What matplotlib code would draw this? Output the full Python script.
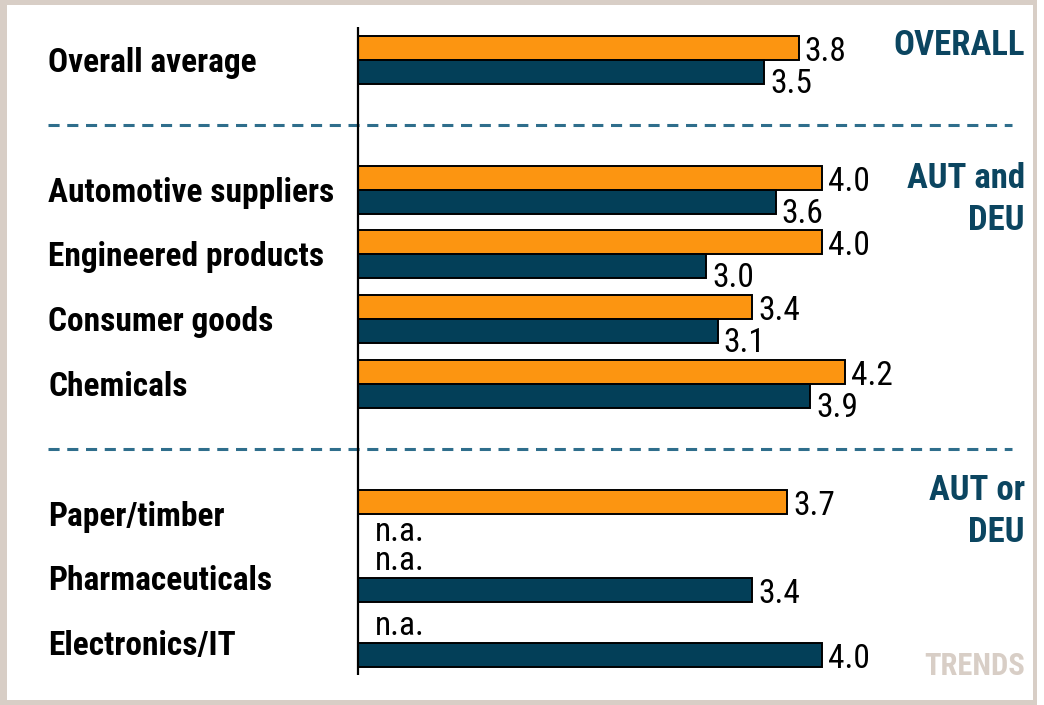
import matplotlib
matplotlib.use("Agg")
import matplotlib.pyplot as plt
from matplotlib.patches import Rectangle
import numpy as np

plt.rcParams['font.family'] = ['Roboto Condensed', 'DejaVu Sans']
plt.rcParams['lines.scale_dashes'] = False

# Data
categories = ["Overall average", "Automotive suppliers", "Engineered products",
              "Consumer goods", "Chemicals", "Paper/timber", "Pharmaceuticals",
              "Electronics/IT"]
positions = [0, 2, 3, 4, 5, 7, 8, 9]
orange_vals = [3.8, 4.0, 4.0, 3.4, 4.2, 3.7, None, None]
teal_vals = [3.5, 3.6, 3.0, 3.1, 3.9, None, 3.4, 4.0]
separators = [1, 6]
group_labels = ["OVERALL", "AUT and\nDEU", "AUT or\nDEU"]
group_label_pos = [-0.08, 1.97, 6.79]
corner_label = "TRENDS"

ORANGE = "#FC9511"
TEAL = "#033F58"
TEXT_TEAL = "#0B4560"
DASH = "#2F6E8C"
BEIGE = "#D8CEC6"

W, H = 1044, 705
fig = plt.figure(figsize=(W / 100, H / 100), dpi=100)
fig.patch.set_facecolor("white")

# Frame around the panel
for (x0, y0, w, h) in [(0, 0, 7, H), (0, H - 5, 1037, 5), (1033, 0, 4, H), (0, 0, 1037, 5)]:
    fig.patches.append(Rectangle((x0 / W, y0 / H), w / W, h / H, transform=fig.transFigure,
                                 facecolor=BEIGE, edgecolor="none", zorder=0))

ax = fig.add_axes([0, 0, 1, 1])
ax.set_facecolor("none")
XPX, X0 = 116.0, 358.0
YPX, Y0 = 64.8, 60.0
ax.set_xlim(-X0 / XPX, (W - X0) / XPX)
ax.set_ylim((H - Y0) / YPX, -Y0 / YPX)
ax.axis("off")

bh = 24 / YPX
pos = np.array(positions, dtype=float)
o_y = pos - bh / 2
t_y = pos + bh / 2

o_mask = [v is not None for v in orange_vals]
t_mask = [v is not None for v in teal_vals]
ax.barh(o_y[o_mask], [v for v in orange_vals if v is not None], height=bh,
        color=ORANGE, edgecolor="black", linewidth=1.4, zorder=3)
ax.barh(t_y[t_mask], [v for v in teal_vals if v is not None], height=bh,
        color=TEAL, edgecolor="black", linewidth=1.4, zorder=3)

# Vertical axis line
ax.plot([0, 0], [-33 / YPX, 615 / YPX], color="black", linewidth=1.6, zorder=4,
        solid_capstyle="butt")

# Dashed group separators
for s in separators:
    ax.plot([(48 - X0) / XPX, (1012 - X0) / XPX], [s, s], color=DASH, linewidth=2.2,
            dashes=(8, 5.5), zorder=2)

lab_dx = 6 / XPX
val_fs = 24
for p, ov, tv in zip(positions, orange_vals, teal_vals):
    ob = p            # bottom of orange bar
    tb = p + bh       # bottom of teal bar
    if ov is not None:
        ax.text(ov + lab_dx, ob + 1 / YPX, f"{ov:.1f}", fontsize=val_fs, va="baseline",
                ha="left", color="black")
    else:
        ax.text(17 / XPX, ob - 8 / YPX, "n.a.", fontsize=val_fs, va="baseline",
                ha="left", color="black")
    if tv is not None:
        off = 8 / YPX if ov is not None else 0
        ax.text(tv + lab_dx, tb + off + 1 / YPX, f"{tv:.1f}", fontsize=val_fs,
                va="baseline", ha="left", color="black")
    else:
        ax.text(17 / XPX, tb + 3 / YPX, "n.a.", fontsize=val_fs, va="baseline",
                ha="left", color="black")

# Category labels
for p, c in zip(positions, categories):
    ax.text((48 - X0) / XPX, p + 12 / YPX, c, fontsize=24, fontweight="bold",
            ha="left", va="baseline", color="black")

# Group labels on the right, one baseline per line
line_step = 42 / YPX
for g, gp in zip(group_labels, group_label_pos):
    for i, line in enumerate(g.split("\n")):
        ax.text((1025 - X0) / XPX, gp + i * line_step, line, fontsize=25,
                fontweight="bold", ha="right", va="baseline", color=TEXT_TEAL)
ax.text((1025 - X0) / XPX, 9 + 32 / YPX, corner_label, fontsize=22, fontweight="bold",
        ha="right", va="baseline", color=BEIGE)

fig.savefig("out.png", dpi=100, facecolor="white")
